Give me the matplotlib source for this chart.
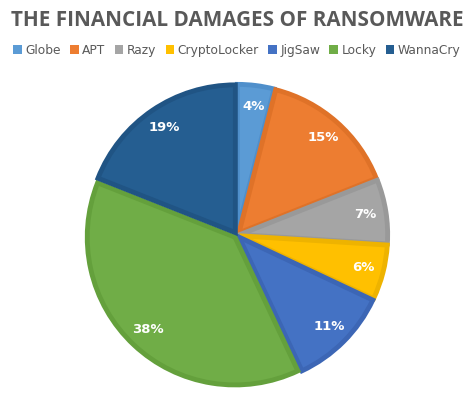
import matplotlib.pyplot as plt
from matplotlib.patches import Patch

# datos del gráfico
nombres = ['Globe', 'APT', 'Razy', 'CryptoLocker', 'JigSaw', 'Locky', 'WannaCry']
porcentajes = [4, 15, 7, 6, 11, 38, 19]
colores = ['#5B9BD5', '#ED7D31', '#A5A5A5', '#FFC000', '#4472C4', '#70AD47', '#255E91']
bordes = ['#4F8FCB', '#DF7228', '#999999', '#EEB300', '#3C66B5', '#64A03C', '#205484']

fig = plt.figure(figsize=(4.74, 4.07), dpi=100)
fig.patch.set_facecolor('white')

# titulo
fig.text(0.5, 0.95, 'THE FINANCIAL DAMAGES OF RANSOMWARE', ha='center', va='center',
         fontsize=14.9, fontweight='bold', color='#595959', family='Open Sans')

# leyenda
handles = [Patch(facecolor=c, edgecolor='none') for c in colores]
fig.legend(handles, nombres, loc='center', bbox_to_anchor=(0.5, 0.877), ncol=7,
           frameon=False, fontsize=8.8, handlelength=0.7, handleheight=0.7,
           handletextpad=0.3, columnspacing=0.75, labelcolor='#595959')

ax = fig.add_axes([0.175, 0.045, 0.65, 0.755])
wedges, textos, pcts = ax.pie(porcentajes, colors=colores, startangle=90, counterclock=False,
                              explode=[0.02] * 7, autopct='%d%%', pctdistance=0.86,
                              wedgeprops=dict(linewidth=3.5),
                              textprops=dict(color='white', fontweight='bold', fontsize=9.5))
for w, b in zip(wedges, bordes):
    w.set_edgecolor(b)
    w.set_joinstyle('miter')
ax.set_aspect('equal')
ax.set_xlim(-1.04, 1.04)
ax.set_ylim(-1.04, 1.04)

plt.savefig('out.png', dpi=100)
